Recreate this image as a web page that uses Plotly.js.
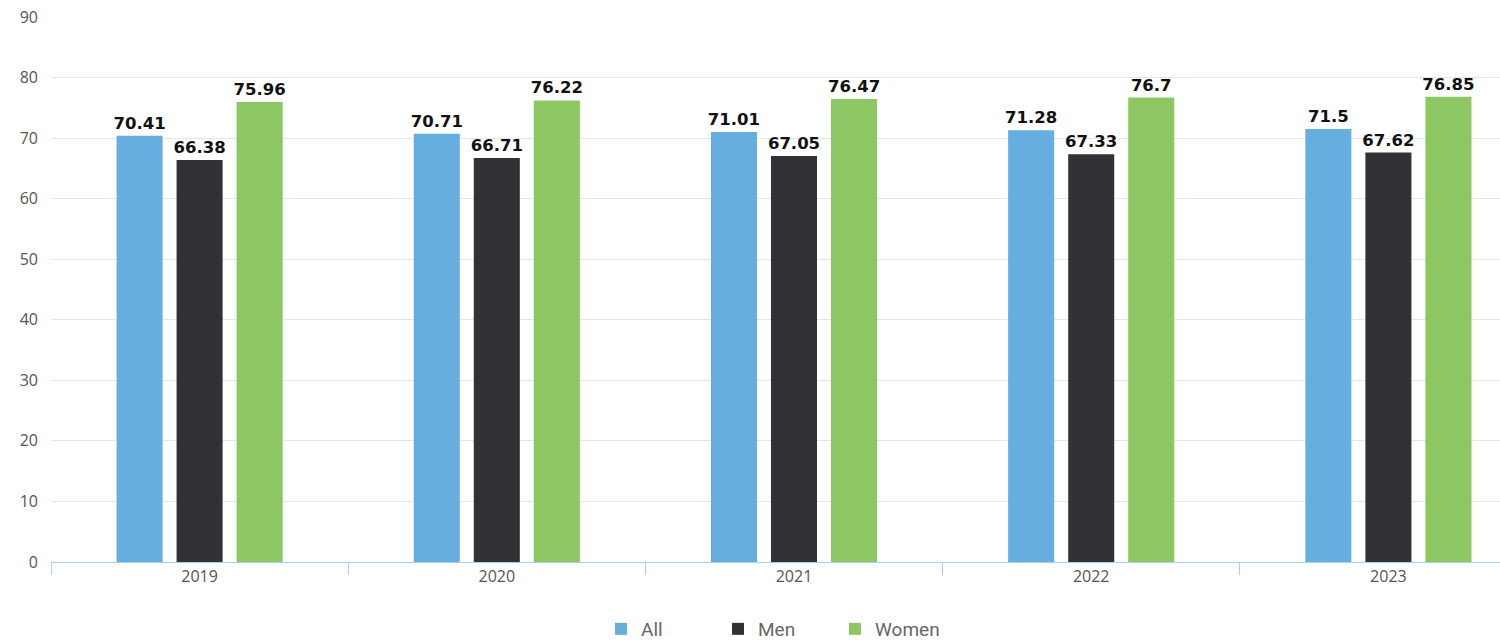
<!DOCTYPE html>
<html>
<head>
<meta charset="utf-8">
<script src="https://cdn.plot.ly/plotly-3.0.1.min.js"></script>
<style>html,body{margin:0;padding:0;background:#fff;overflow:hidden;width:1500px;height:641px;}#chart{width:1540px;height:641px;}</style>
</head>
<body>
<div id="chart"></div>
<script>
const years = ["2019", "2020", "2021", "2022", "2023"];
const allValues = [70.41, 70.71, 71.01, 71.28, 71.5];
const menValues = [66.38, 66.71, 67.05, 67.33, 67.62];
const womenValues = [75.96, 76.22, 76.47, 76.7, 76.85];
const seriesNames = ["All", "Men", "Women"];
const seriesColors = ["#66aee0", "#313236", "#8cc764"];

const seriesValues = [allValues, menValues, womenValues];
const traces = seriesValues.map((vals, i) => ({
  type: "bar",
  name: seriesNames[i],
  x: years,
  y: vals,
  marker: {color: seriesColors[i]},
  text: vals.map(v => String(v)),
  textposition: "outside",
  constraintext: "none",
  cliponaxis: false,
  textfont: {family: "DejaVu Sans", size: 16.5, color: "#111", weight: 700},
  hoverinfo: "none"
}));

const layout = {
  width: 1540, height: 641,
  margin: {l: 51, r: 3, t: 17, b: 79},
  paper_bgcolor: "#fff", plot_bgcolor: "#fff",
  barmode: "group",
  bargap: 0.394,
  bargroupgap: 0.233,
  font: {family: "Open Sans", color: "#555"},
  xaxis: {
    type: "category",
    showline: true, linecolor: "#a8d0ec", linewidth: 1,
    ticks: "outside", tickson: "boundaries", ticklen: 12, tickcolor: "#a8d0ec",
    tickfont: {family: "Open Sans", size: 16, color: "#555"},
    showgrid: false
  },
  yaxis: {
    range: [0, 90], dtick: 10,
    gridcolor: "#e6e6e6", gridwidth: 1,
    zeroline: false,
    tickfont: {family: "Open Sans", size: 16, color: "#555"},
    ticklabelstandoff: 12
  },
  legend: {
    orientation: "h", x: 570 / 1540, xanchor: "left",
    yref: "container", y: 12 / 641, yanchor: "middle",
    font: {family: "Roboto", size: 19, color: "#666"},
    traceorder: "normal",
    itemwidth: 30,
    entrywidth: 72, entrywidthmode: "pixels"
  },
  showlegend: true
};

Plotly.newPlot("chart", traces, layout, {displayModeBar: false, staticPlot: true});
</script>
</body>
</html>
